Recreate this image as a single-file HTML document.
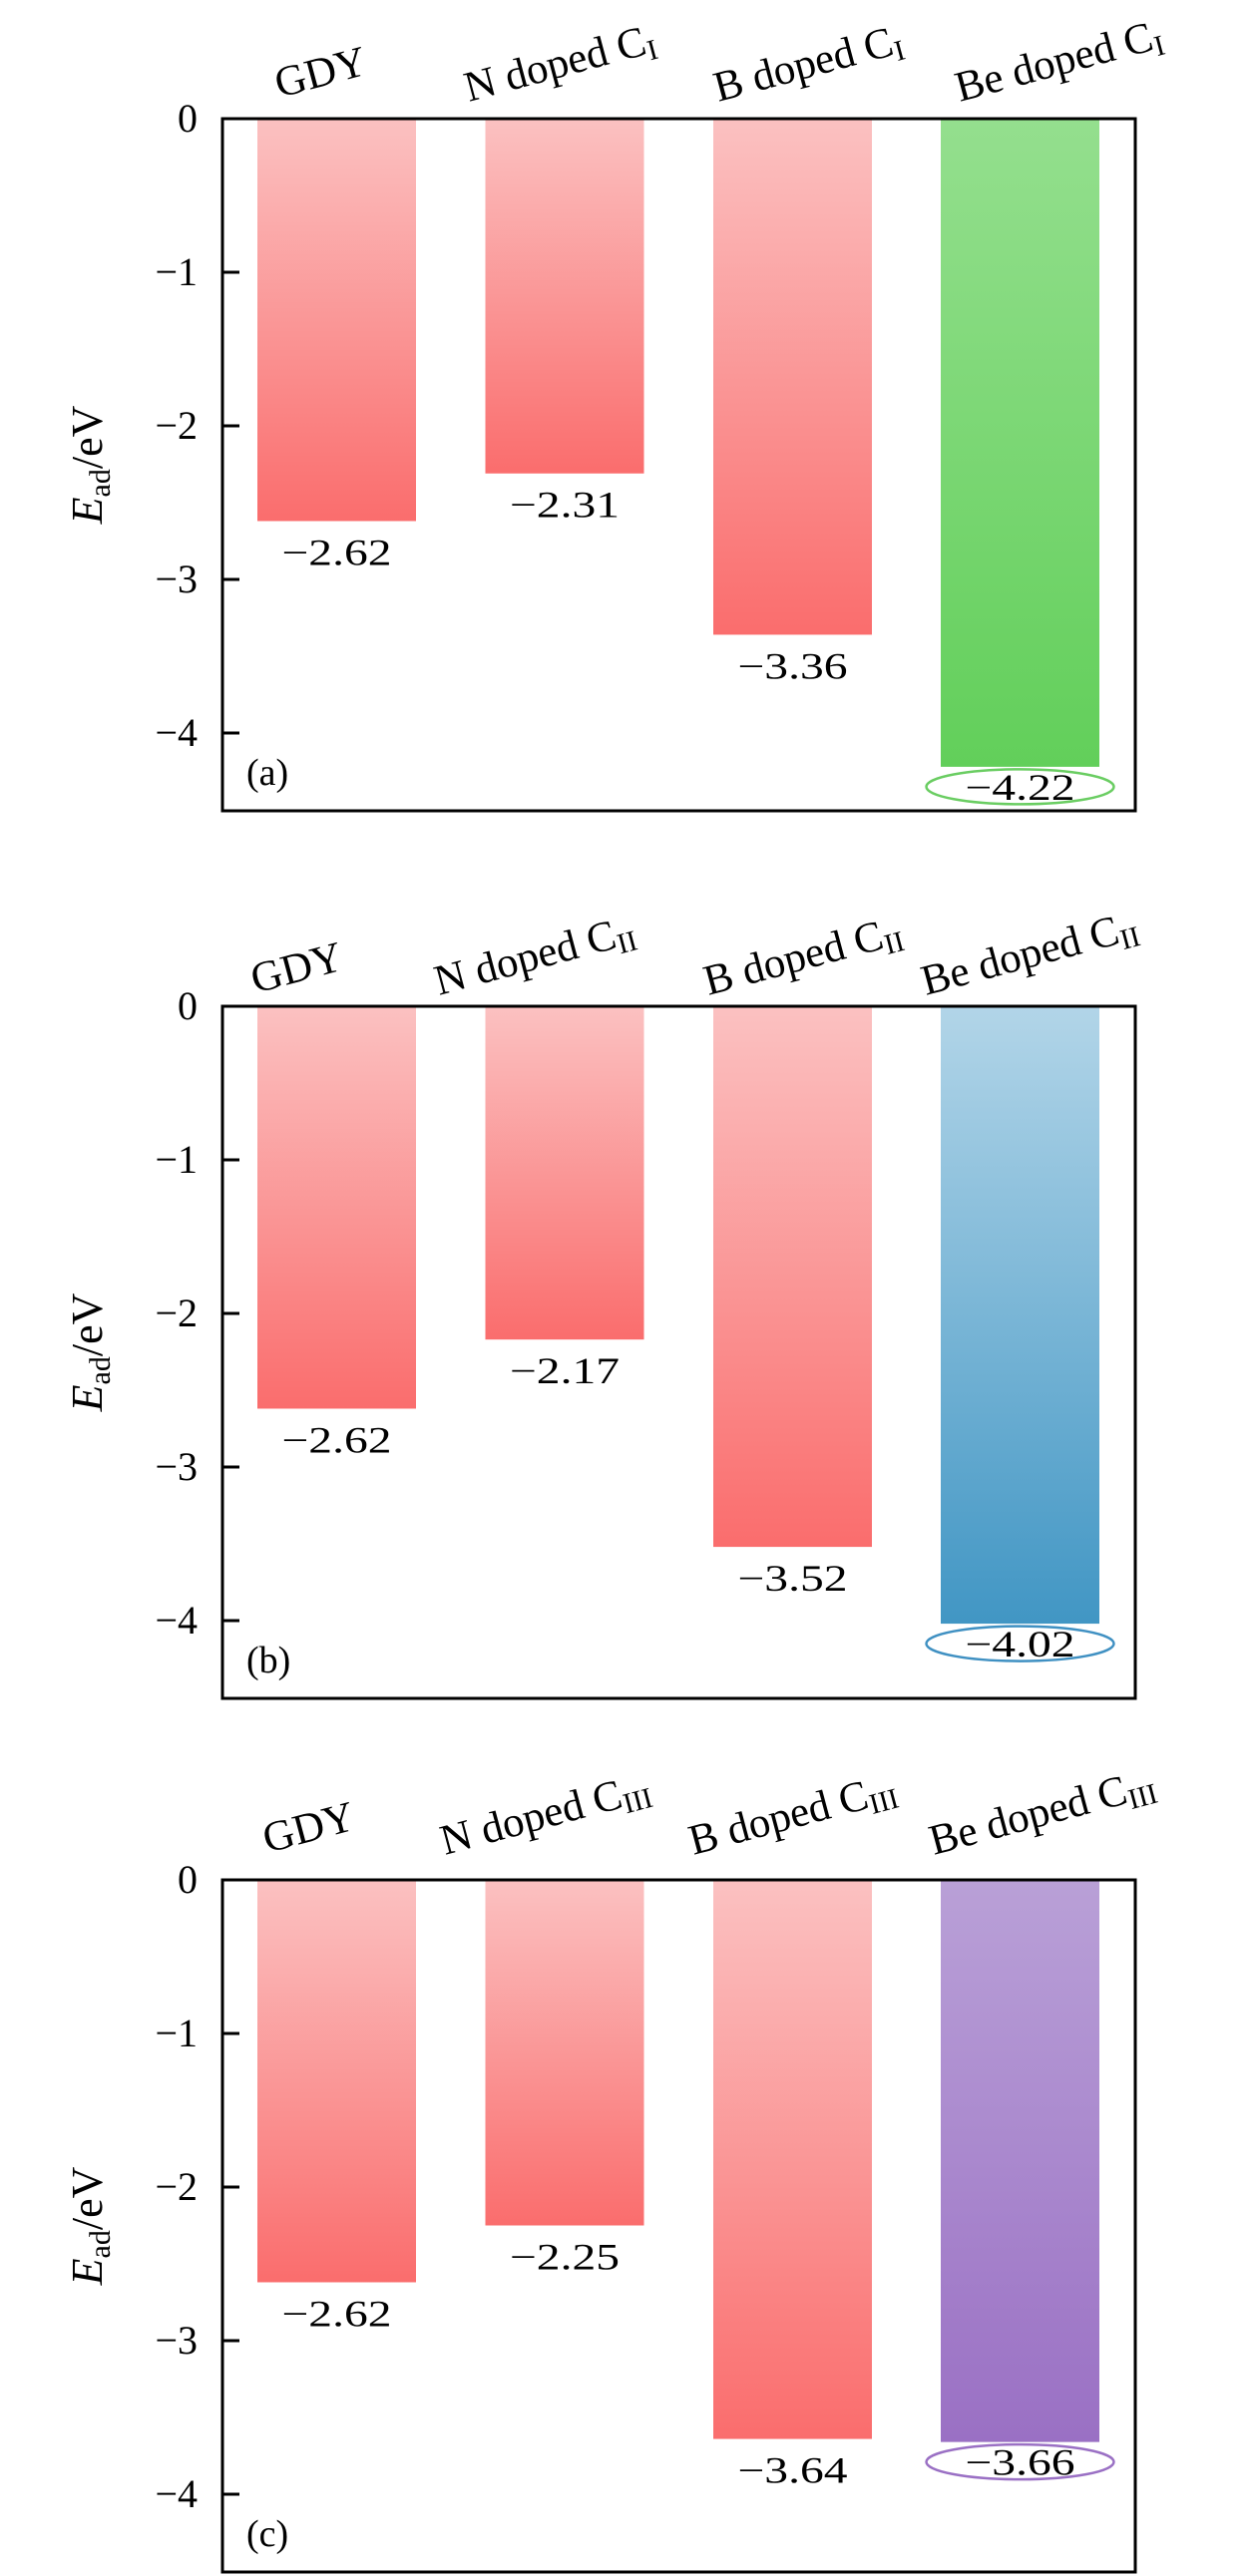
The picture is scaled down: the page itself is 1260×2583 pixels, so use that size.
<!DOCTYPE html>
<html><head><meta charset="utf-8"><style>
html,body{margin:0;padding:0;background:#fff;}
svg{display:block;font-family:"Liberation Serif",serif;}
</style></head><body>
<svg id="chart" width="1260" height="2583" viewBox="0 0 1260 2583" xmlns="http://www.w3.org/2000/svg">
<defs>
<linearGradient id="gRed" x1="0" y1="0" x2="0" y2="1"><stop offset="0" stop-color="#fbc1c1"/><stop offset="1" stop-color="#fa6d6d"/></linearGradient>
<linearGradient id="gGreen" x1="0" y1="0" x2="0" y2="1"><stop offset="0" stop-color="#94df8e"/><stop offset="1" stop-color="#62cf5a"/></linearGradient>
<linearGradient id="gBlue" x1="0" y1="0" x2="0" y2="1"><stop offset="0" stop-color="#b2d5e8"/><stop offset="1" stop-color="#4196c4"/></linearGradient>
<linearGradient id="gPurple" x1="0" y1="0" x2="0" y2="1"><stop offset="0" stop-color="#b9a0d7"/><stop offset="1" stop-color="#9a70c4"/></linearGradient>
</defs>
</svg>
<script>
const panelLetters = ["a", "b", "c"];
const subscripts = ["I", "II", "III"];
const categoryBase = ["GDY", "N doped C", "B doped C", "Be doped C"];
const valuesA = [-2.62, -2.31, -3.36, -4.22];
const valuesB = [-2.62, -2.17, -3.52, -4.02];
const valuesC = [-2.62, -2.25, -3.64, -3.66];
const yTicks = [0, -1, -2, -3, -4];
const allValues = [valuesA, valuesB, valuesC];
const highlightFill = ["gGreen", "gBlue", "gPurple"];
const highlightStroke = ["#6acd62", "#3f90c2", "#9a70c4"];

const NS = "http://www.w3.org/2000/svg";
const svg = document.getElementById("chart");
function mk(tag, attrs, parent) {
  const e = document.createElementNS(NS, tag);
  for (const k in attrs) e.setAttribute(k, attrs[k]);
  (parent || svg).appendChild(e);
  return e;
}
const boxL = 223, boxR = 1138, boxH = 694, unit = 154;
const panelTops = [119, 1009, 1885];
const centers = [337.5, 566, 794.5, 1022.5];
const barW = 159;
const labelStartA = [[280, 98], [470, 102], [720, 102], [962, 102]];
const labelStartBC = [[[256, -13], [440, -11], [710, -11], [928, -11]], [[268, -27], [446, -25], [695, -25], [936, -25]]];

panelLetters.forEach((letter, p) => {
  const top = panelTops[p];
  const vals = allValues[p];
  const y = v => top - v * unit;
  const g = mk("g", {});
  
  

  vals.forEach((v, i) => {
    const isHi = i === 3;
    const r = mk("rect", {x: centers[i] - barW / 2, y: y(0), width: barW, height: y(v) - y(0), fill: "url(#" + (isHi ? highlightFill[p] : "gRed") + ")"}, g);
    
    
    const bottom = y(v);
    const t = mk("text", {x: centers[i], y: bottom + (isHi ? 33 : 44), "text-anchor": "middle", "font-size": 37, textLength: 110, lengthAdjust: "spacingAndGlyphs", fill: "#000"}, g);
    t.textContent = "\u2212" + Math.abs(v).toFixed(2);
    
    
    if (isHi) {
      const el = mk("ellipse", {cx: centers[i], cy: bottom + 20, rx: 94, ry: 17.5, fill: "none", stroke: highlightStroke[p], "stroke-width": 2.5}, g);
      
      
    }
  });

  const fr = mk("rect", {x: boxL, y: top, width: boxR - boxL, height: boxH, fill: "none", stroke: "#000", "stroke-width": 3}, g);
  
  

  yTicks.forEach(tv => {
    const ty = y(tv);
    const tk = mk("line", {x1: boxL, x2: boxL + 17, y1: ty, y2: ty, stroke: "#000", "stroke-width": 3}, g);
    
    
    const tl = mk("text", {x: 198, y: ty + 13, "text-anchor": "end", "font-size": 40}, g);
    tl.textContent = tv === 0 ? "0" : "\u2212" + Math.abs(tv);
    
    
  });

  const cy = top + boxH / 2;
  const yt = mk("text", {x: 102, y: cy, transform: "rotate(-90 102 " + cy + ")", "text-anchor": "middle", "font-size": 44}, g);
  
  
  const e1 = mk("tspan", {"font-style": "italic"}, yt); e1.textContent = "E";
  const e2 = mk("tspan", {"font-size": 30, dy: 8}, yt); e2.textContent = "ad";
  const e3 = mk("tspan", {dy: -8}, yt); e3.textContent = "/eV";

  categoryBase.forEach((c, i) => {
    let sx, sy;
    if (p === 0) { sx = labelStartA[i][0]; sy = labelStartA[i][1]; }
    else { sx = labelStartBC[p - 1][i][0]; sy = top + labelStartBC[p - 1][i][1]; }
    const t = mk("text", {x: sx, y: sy, "font-size": 43, transform: "rotate(-15 " + sx + " " + sy + ")"}, g);
    
    
    const a = mk("tspan", {}, t); a.textContent = c;
    if (i > 0) {
      const s = mk("tspan", {"font-size": 29, dy: 7}, t); s.textContent = subscripts[p];
    }
  });

  const pl = mk("text", {x: 247, y: top + 668, "font-size": 38}, g);
  pl.textContent = "(" + letter + ")";
  
  
});
</script>
</body></html>
